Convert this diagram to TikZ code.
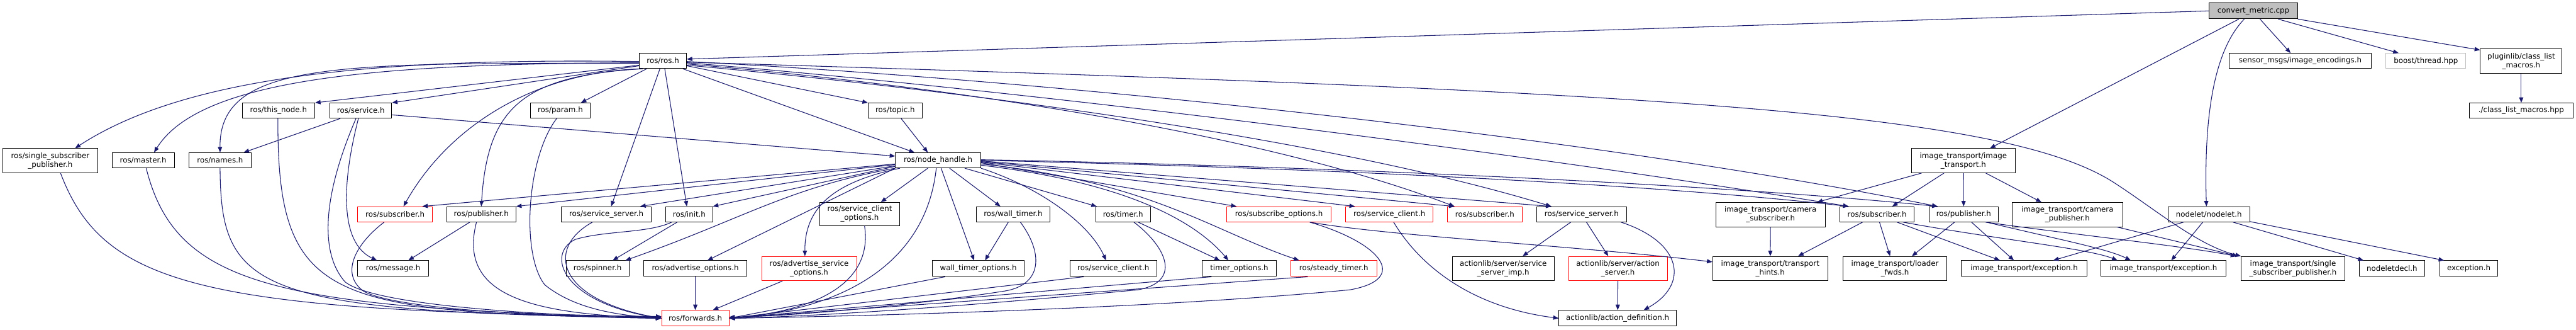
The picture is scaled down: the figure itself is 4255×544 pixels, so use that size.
\documentclass[tikz,border=0pt]{standalone}
\usepackage{fontspec}
\setmainfont{DejaVu Sans}
\usetikzlibrary{arrows.meta}
\definecolor{edgec}{HTML}{191970}
\definecolor{redb}{HTML}{FF0000}
\definecolor{grayb}{HTML}{BFBFBF}
\newcommand\mk[7][]{\node[box,#1,minimum width={#4pt-#3pt},minimum height={#6pt-#5pt}] (#2) at ({(#3+#4)/2},{(#5+#6)/2}) {#7};}
\begin{document}
\begin{tikzpicture}[x=1pt,y=-1pt,
  box/.style={draw=black,line width=1pt,fill=white,inner sep=0pt,align=center,font=\fontsize{12.3}{14.5}\selectfont},
  redbox/.style={draw=redb},
  graybox/.style={draw=grayb},
  edg/.style={draw=edgec,line width=1.1pt,-{Triangle[length=9pt,width=7pt]}}]
\fill[white] (0,0) rectangle (4255,544);
\useasboundingbox (0,0) rectangle (4255,544);
% row 1
\mk[fill=grayb]{cm}{3649}{3795}{5}{31}{convert\_metric.cpp}
% row 2
\mk{ros}{1056}{1134}{88}{113}{ros/ros.h}
\mk{sme}{3682}{3917}{88}{113}{sensor\_msgs/image\_encodings.h}
\mk[graybox]{boost}{3941}{4073}{88}{113}{boost/thread.hpp}
\mk{plm}{4097}{4232}{81}{121}{pluginlib/class\_list\\\_macros.h}
% row 3
\mk{thisnode}{400}{520}{170}{195}{ros/this\_node.h}
\mk{service}{545}{647}{170}{195}{ros/service.h}
\mk{param}{876}{975}{170}{195}{ros/param.h}
\mk{topic}{1434}{1523}{170}{195}{ros/topic.h}
\mk{clm}{4079}{4250}{170}{195}{./class\_list\_macros.hpp}
% row 4
\mk{ssp}{5}{161}{245}{285}{ros/single\_subscriber\\\_publisher.h}
\mk{master}{185}{288}{252}{277}{ros/master.h}
\mk{names}{312}{415}{252}{277}{ros/names.h}
\mk{nh}{1479}{1620}{252}{277}{ros/node\_handle.h}
\mk{itit}{3157}{3329}{245}{285}{image\_transport/image\\\_transport.h}
% row 5
\mk[redbox]{sub1}{591}{714}{341}{366}{ros/subscriber.h}
\mk{pub1}{738}{852}{341}{366}{ros/publisher.h}
\mk{ss1}{927}{1076}{341}{366}{ros/service\_server.h}
\mk{init}{1100}{1177}{341}{366}{ros/init.h}
\mk{sco}{1354}{1486}{334}{372}{ros/service\_client\\\_options.h}
\mk{wt}{1613}{1734}{341}{366}{ros/wall\_timer.h}
\mk{timer}{1810}{1900}{341}{366}{ros/timer.h}
\mk[redbox]{subo}{2026}{2199}{341}{366}{ros/subscribe\_options.h}
\mk[redbox]{sc2}{2223}{2367}{341}{366}{ros/service\_client.h}
\mk[redbox]{sub2}{2391}{2514}{341}{366}{ros/subscriber.h}
\mk{ss2}{2538}{2687}{341}{366}{ros/service\_server.h}
\mk{itcs}{2834}{3015}{334}{374}{image\_transport/camera\\\_subscriber.h}
\mk{sub3}{3039}{3162}{341}{366}{ros/subscriber.h}
\mk{pub3}{3186}{3301}{341}{366}{ros/publisher.h}
\mk{itcp}{3324}{3506}{334}{374}{image\_transport/camera\\\_publisher.h}
\mk{nodelet}{3581}{3716}{341}{366}{nodelet/nodelet.h}
% row 6
\mk{message}{591}{708}{430}{456}{ros/message.h}
\mk{spinner}{935}{1039}{430}{456}{ros/spinner.h}
\mk{ao}{1063}{1234}{430}{456}{ros/advertise\_options.h}
\mk[redbox]{aso}{1258}{1415}{423}{463}{ros/advertise\_service\\\_options.h}
\mk{wto}{1540}{1692}{430}{456}{wall\_timer\_options.h}
\mk{sc1}{1767}{1911}{430}{456}{ros/service\_client.h}
\mk{to}{1986}{2108}{430}{456}{timer\_options.h}
\mk[redbox]{st}{2132}{2274}{430}{456}{ros/steady\_timer.h}
\mk{ssi}{2399}{2567}{423}{463}{actionlib/server/service\\\_server\_imp.h}
\mk[redbox]{as}{2591}{2754}{423}{463}{actionlib/server/action\\\_server.h}
\mk{th}{2829}{3019}{423}{463}{image\_transport/transport\\\_hints.h}
\mk{lf}{3044}{3216}{423}{463}{image\_transport/loader\\\_fwds.h}
\mk{ex1}{3240}{3447}{430}{456}{image\_transport/exception.h}
\mk{ex2}{3470}{3677}{430}{456}{image\_transport/exception.h}
\mk{itssp}{3702}{3873}{423}{463}{image\_transport/single\\\_subscriber\_publisher.h}
\mk{nd}{3897}{4005}{430}{456}{nodeletdecl.h}
\mk{exc}{4030}{4126}{430}{456}{exception.h}
% row 7
\mk[redbox]{fwd}{1093}{1204}{512}{538}{ros/forwards.h}
\mk{ad}{2575}{2769}{512}{538}{actionlib/action\_definition.h}

% ---- edges from convert_metric.cpp
\draw[edg] (cm.west) -- ([yshift=3pt]ros.east);
\draw[edg] ([xshift=-24pt]cm.south) -- ([xshift=44pt]itit.north);
\draw[edg] ([xshift=-15pt]cm.south) .. controls (3660,80) and (3640,180) .. ([xshift=-4pt]nodelet.north);
\draw[edg] ([xshift=11pt]cm.south) -- ([xshift=-16pt]sme.north);
\draw[edg] ([xshift=41pt]cm.south) -- ([xshift=-45pt]boost.north);
\draw[edg] (cm.south east) -- ([yshift=-2pt]plm.north west);
\draw[edg] (plm) -- (clm);

% ---- edges from ros/ros.h
\draw[edg] ([yshift=-1pt]ros.west) .. controls (600,95) and (300,130) .. ([xshift=41pt]ssp.north);
\draw[edg] ([yshift=-3pt]ros.west) .. controls (620,105) and (330,130) .. ([xshift=18pt]master.north);
\draw[edg] ([yshift=-4pt]ros.west) .. controls (560,104) and (362,100) .. (names.north);
\draw[edg] ([yshift=-7pt]ros.west) -- (thisnode.north east);
\draw[edg] ([yshift=-8pt]ros.west) -- (service.north east);
\draw[edg] ([xshift=2pt]ros.south west) .. controls (880,120) and (740,210) .. ([xshift=14pt]sub1.north);
\draw[edg] ([xshift=6pt]ros.south west) .. controls (860,125) and (805,180) .. (pub1.north);
\draw[edg] ([xshift=-27pt]ros.south) -- ([xshift=34pt]param.north);
\draw[edg] ([xshift=-5pt]ros.south) -- ([xshift=8pt]ss1.north);
\draw[edg] ([xshift=3pt]ros.south) -- ([xshift=-4pt]init.north);
\draw[edg] ([xshift=33pt]ros.south) -- ([xshift=-39pt]nh.north);
\draw[edg] ([yshift=-8pt]ros.east) -- (topic.north west);
\draw[edg] ([yshift=-2pt]ros.east) .. controls (2700,150) and (3300,180) .. (3490,300) .. controls (3560,345) and (3630,405) .. (itssp.north west);
\draw[edg] ([yshift=-5pt]ros.east) .. controls (1600,145) and (2100,225) .. ([xshift=-50pt]sub2.north);
\draw[edg] ([yshift=-7pt]ros.east) .. controls (1600,150) and (2200,230) .. ([xshift=-50pt]ss2.north);
\draw[edg] ([yshift=-3pt]ros.east) .. controls (1700,150) and (2500,250) .. ([xshift=-47pt]sub3.north);
\draw[edg] ([yshift=-1pt]ros.east) .. controls (1700,130) and (2600,220) .. ([xshift=-43pt]pub3.north);

% ---- topic, service
\draw[edg] ([xshift=10pt]topic.south) -- ([xshift=-17pt]nh.north);
\draw[edg] ([xshift=-34pt]service.south) -- ([xshift=39pt]names.north);
\draw[edg] ([yshift=-7pt]service.east) -- ([yshift=7pt]nh.west);
\draw[edg] ([xshift=-4pt]service.south) .. controls (565,300) and (560,400) .. ([xshift=-27pt]message.north);

% ---- edges from ros/node_handle.h
\draw[edg] ([yshift=-6pt]nh.west) -- ([xshift=45pt]sub1.north);
\draw[edg] ([yshift=-7pt]nh.west) -- (pub1.north east);
\draw[edg] ([yshift=-9pt]nh.west) -- ([xshift=56pt]ss1.north);
\draw[edg] ([yshift=-10pt]nh.west) -- (init.north east);
\draw[edg] (nh.south west) .. controls (1300,310) and (1230,360) .. ([xshift=46pt]spinner.north);
\draw[edg] (nh.south west) -- ([xshift=20pt]ao.north);
\draw[edg] ([xshift=8pt]nh.south west) .. controls (1380,300) and (1329,340) .. ([xshift=-7pt]aso.north);
\draw[edg] ([xshift=-17pt]nh.south) -- ([xshift=35pt]sco.north);
\draw[edg] ([xshift=-3pt]nh.south) .. controls (1530,430) and (1400,510) .. (fwd.east);
\draw[edg] ([xshift=5pt]nh.south) -- ([xshift=-7pt]wto.north);
\draw[edg] ([xshift=19pt]nh.south) -- ([xshift=-21pt]wt.north);
\draw[edg] ([xshift=44pt]nh.south) -- ([xshift=2pt]timer.north west);
\draw[edg] (nh.south east) .. controls (1720,310) and (1800,370) .. ([xshift=-12pt]sc1.north);
\draw[edg] ([yshift=-8pt]nh.east) .. controls (1850,300) and (1970,360) .. ([xshift=-18pt]to.north);
\draw[edg] ([yshift=-6pt]nh.east) .. controls (1900,300) and (2000,380) .. ([xshift=-57pt]st.north);
\draw[edg] ([yshift=-4pt]nh.east) -- ([xshift=-70pt]subo.north);
\draw[edg] ([yshift=-3pt]nh.east) -- ([xshift=-57pt]sc2.north);
\draw[edg] ([yshift=-2pt]nh.east) -- ([xshift=-50pt]sub2.north);
\draw[edg] ([yshift=-1pt]nh.east) -- ([xshift=-50pt]ss2.north);
\draw[edg] (nh.east) .. controls (2100,275) and (2700,300) .. ([xshift=-47pt]sub3.north);
\draw[edg] ([yshift=1pt]nh.east) .. controls (2100,272) and (2800,300) .. ([xshift=-43pt]pub3.north);

% ---- left cluster to forwards
\draw[edg] ([xshift=17pt]ssp.south) .. controls (170,470) and (330,515) .. ([yshift=3pt]fwd.west);
\draw[edg] ([xshift=5pt]master.south) .. controls (290,470) and (450,510) .. ([yshift=2pt]fwd.west);
\draw[edg] (names.south) .. controls (365,480) and (420,515) .. ([yshift=1pt]fwd.west);
\draw[edg] ([xshift=-1pt]thisnode.south) .. controls (458,500) and (540,515) .. (fwd.west);
\draw[edg] ([xshift=-8pt]service.south) .. controls (530,330) and (530,420) .. (570,465) .. controls (620,505) and (900,520) .. (fwd.west);
\draw[edg] ([xshift=-18pt]sub1.south) .. controls (590,400) and (560,450) .. (600,480) .. controls (650,510) and (900,522) .. (fwd.west);
\draw[edg] ([xshift=-8pt]pub1.south) .. controls (755,490) and (880,518) .. (fwd.west);
\draw[edg] ([xshift=-19pt]pub1.south) -- ([xshift=25pt]message.north);
\draw[edg] ([xshift=-6pt]param.south) .. controls (870,260) and (860,420) .. (900,470) .. controls (950,510) and (1020,520) .. (fwd.west);
\draw[edg] ([xshift=-23pt]ss1.south) .. controls (900,410) and (920,495) .. (fwd.west);
\draw[edg] ([xshift=-29pt]init.south) .. controls (1070,385) and (1000,380) .. (950,395) .. controls (900,420) and (930,500) .. (fwd.west);
\draw[edg] ([xshift=-20pt]init.south) -- ([xshift=25pt]spinner.north);
\draw[edg] ([xshift=-44pt]aso.south) -- ([xshift=29pt]fwd.north);
\draw[edg] (ao) -- (fwd);

% ---- right of forwards
\draw[edg] ([xshift=8pt]sco.south) .. controls (1440,450) and (1380,510) .. (fwd.east);
\draw[edg] ([xshift=-8pt]wt.south) -- ([xshift=11pt]wto.north);
\draw[edg] ([xshift=12pt]wt.south) .. controls (1725,420) and (1720,470) .. (1660,480) .. controls (1500,505) and (1300,522) .. ([yshift=2pt]fwd.east);
\draw[edg] ([xshift=-55pt]wto.south) -- (fwd.east);
\draw[edg] ([xshift=-49pt]sc1.south) -- (fwd.east);
\draw[edg] ([xshift=25pt]timer.south) -- ([xshift=-32pt]to.north);
\draw[edg] ([xshift=18pt]timer.south) .. controls (1930,410) and (1950,465) .. (1880,478) .. controls (1600,505) and (1350,522) .. (fwd.east);
\draw[edg] ([xshift=-46pt]to.south) -- (fwd.east);
\draw[edg] ([xshift=-43pt]st.south) -- (fwd.east);
\draw[edg] ([xshift=51pt]subo.south) .. controls (2280,400) and (2330,460) .. (2230,478) .. controls (1900,510) and (1400,522) .. (fwd.east);
\draw[edg] ([xshift=51pt]subo.south) .. controls (2300,390) and (2600,405) .. ([yshift=11pt]th.west);

% ---- actionlib
\draw[edg] ([xshift=7pt]sc2.south) .. controls (2340,430) and (2420,505) .. (ad.west);
\draw[edg] ([xshift=-18pt]ss2.south) -- ([xshift=32pt]ssi.north);
\draw[edg] ([xshift=8pt]ss2.south) -- ([xshift=-16pt]as.north);
\draw[edg] ([xshift=65pt]ss2.south) .. controls (2780,400) and (2790,470) .. ([xshift=43pt]ad.north);
\draw[edg] (as) -- (ad);

% ---- image_transport cluster
\draw[edg] ([xshift=-69pt]itit.south) -- ([xshift=77pt]itcs.north);
\draw[edg] ([xshift=-32pt]itit.south) -- ([xshift=25pt]sub3.north);
\draw[edg] (itit) -- (pub3);
\draw[edg] ([xshift=37pt]itit.south) -- ([xshift=-43pt]itcp.north);
\draw[edg] (itcs) -- (th);
\draw[edg] ([xshift=-24pt]sub3.south) -- ([xshift=46pt]th.north);
\draw[edg] ([xshift=4pt]sub3.south) -- ([xshift=-8pt]lf.north);
\draw[edg] ([xshift=33pt]sub3.south) -- ([xshift=-40pt]ex1.north);
\draw[edg] ([xshift=43pt]sub3.south) .. controls (3300,395) and (3450,410) .. ([xshift=-76pt]ex2.north);
\draw[edg] ([xshift=-15pt]pub3.south) -- ([xshift=28pt]lf.north);
\draw[edg] ([xshift=13pt]pub3.south) -- ([xshift=-17pt]ex1.north);
\draw[edg] ([xshift=38pt]pub3.south) .. controls (3400,395) and (3480,410) .. ([xshift=-54pt]ex2.north);
\draw[edg] ([xshift=36pt]pub3.south) .. controls (3450,390) and (3600,405) .. ([xshift=-8pt]itssp.north west);
\draw[edg] ([xshift=82pt]itcp.south) -- ([xshift=-5pt]itssp.north west);
\draw[edg] ([xshift=-42pt]nodelet.south) -- ([xshift=48pt]ex1.north);
\draw[edg] ([xshift=-10pt]nodelet.south) -- ([xshift=13pt]ex2.north);
\draw[edg] ([xshift=40pt]nodelet.south) -- ([xshift=-47pt]nd.north);
\draw[edg] ([yshift=1pt]nodelet.south east) -- ([xshift=-41pt]exc.north);
\end{tikzpicture}
\end{document}
